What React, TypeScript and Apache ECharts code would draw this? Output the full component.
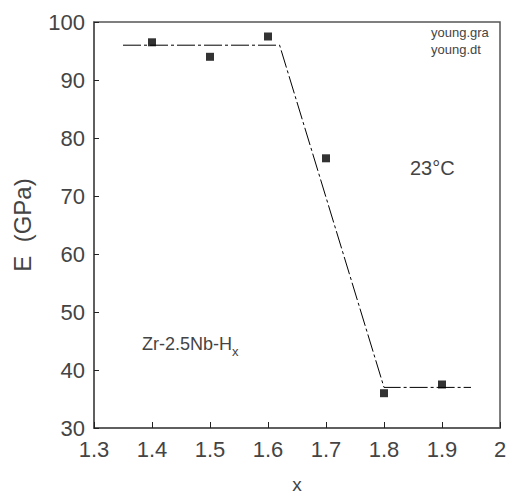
import React, { useEffect, useRef } from "react";
import * as echarts from "echarts";

const xValues = [1.4, 1.5, 1.6, 1.7, 1.8, 1.9];
const eValues = [96.5, 94.0, 97.5, 76.5, 36.0, 37.5];
const fitX = [1.35, 1.62, 1.8, 1.95];
const fitE = [96, 96, 37, 37];
const fileLabels = ["young.gra", "young.dt"];
const tempLabel = "23°C";
const alloyLabel = "Zr-2.5Nb-H";

export default function App() {
  const ref = useRef<HTMLDivElement>(null);
  useEffect(() => {
    if (!ref.current) return;
    document.body.style.margin = "0";
    const chart = echarts.init(ref.current, null, { renderer: "svg" });
    const font = "Liberation Sans, Arial, sans-serif";
    const txt = "#444";
    chart.setOption({
      animation: false,
      grid: {
        left: 94,
        right: 7,
        top: 22,
        bottom: 68,
        show: true,
        borderColor: "#555",
        borderWidth: 1.5,
        outerBoundsMode: "none",
        containLabel: false,
      },
      xAxis: {
        type: "value",
        min: 1.3,
        max: 2,
        interval: 0.1,
        name: "x",
        nameLocation: "middle",
        nameGap: 47,
        nameTextStyle: { fontSize: 19, color: txt, fontFamily: font },
        axisLine: { lineStyle: { color: "#555", width: 1.5 } },
        axisTick: { inside: true, length: 6, lineStyle: { color: "#222" } },
        axisLabel: { fontSize: 22, color: txt, fontFamily: font, margin: 10 },
        splitLine: { show: false },
      },
      yAxis: {
        type: "value",
        min: 30,
        max: 100,
        interval: 10,
        name: "E  (GPa)",
        nameLocation: "middle",
        nameGap: 60,
        nameTextStyle: { fontSize: 24, color: txt, fontFamily: font },
        axisLine: { lineStyle: { color: "#555", width: 1.5 } },
        axisTick: { inside: true, length: 5, lineStyle: { color: "#222" } },
        axisLabel: { fontSize: 22, color: txt, fontFamily: font, margin: 9 },
        splitLine: { show: false },
      },
      series: [
        {
          type: "line",
          data: fitX.map((x, i) => [x, fitE[i]]),
          symbol: "none",
          lineStyle: { color: "#000", width: 1, type: [18, 3, 3, 3] },
          z: 2,
        },
        {
          type: "scatter",
          data: xValues.map((x, i) => [x, eValues[i]]),
          symbol: "rect",
          symbolSize: 8,
          itemStyle: { color: "#000" },
          z: 3,
        },
      ],
      graphic: [
        {
          type: "text",
          left: 431,
          top: 26,
          style: { text: fileLabels[0], fontSize: 13, fill: txt, fontFamily: font },
        },
        {
          type: "text",
          left: 431,
          top: 43,
          style: { text: fileLabels[1], fontSize: 13, fill: txt, fontFamily: font },
        },
        {
          type: "text",
          left: 410,
          top: 158,
          style: { text: tempLabel, fontSize: 20, fill: txt, fontFamily: font },
        },
        {
          type: "text",
          left: 142,
          top: 335,
          style: {
            text: "{m|" + alloyLabel + "}{s|x}",
            fill: txt,
            fontFamily: font,
            rich: {
              m: { fontSize: 18, fill: txt, fontFamily: font, verticalAlign: "bottom", lineHeight: 22 },
              s: { fontSize: 13, fill: txt, fontFamily: font, verticalAlign: "bottom", lineHeight: 14, padding: [0, 0, -5, 0] },
            },
          },
        },
      ],
    });
    return () => chart.dispose();
  }, []);
  return <div ref={ref} style={{ width: 507, height: 496 }} />;
}
